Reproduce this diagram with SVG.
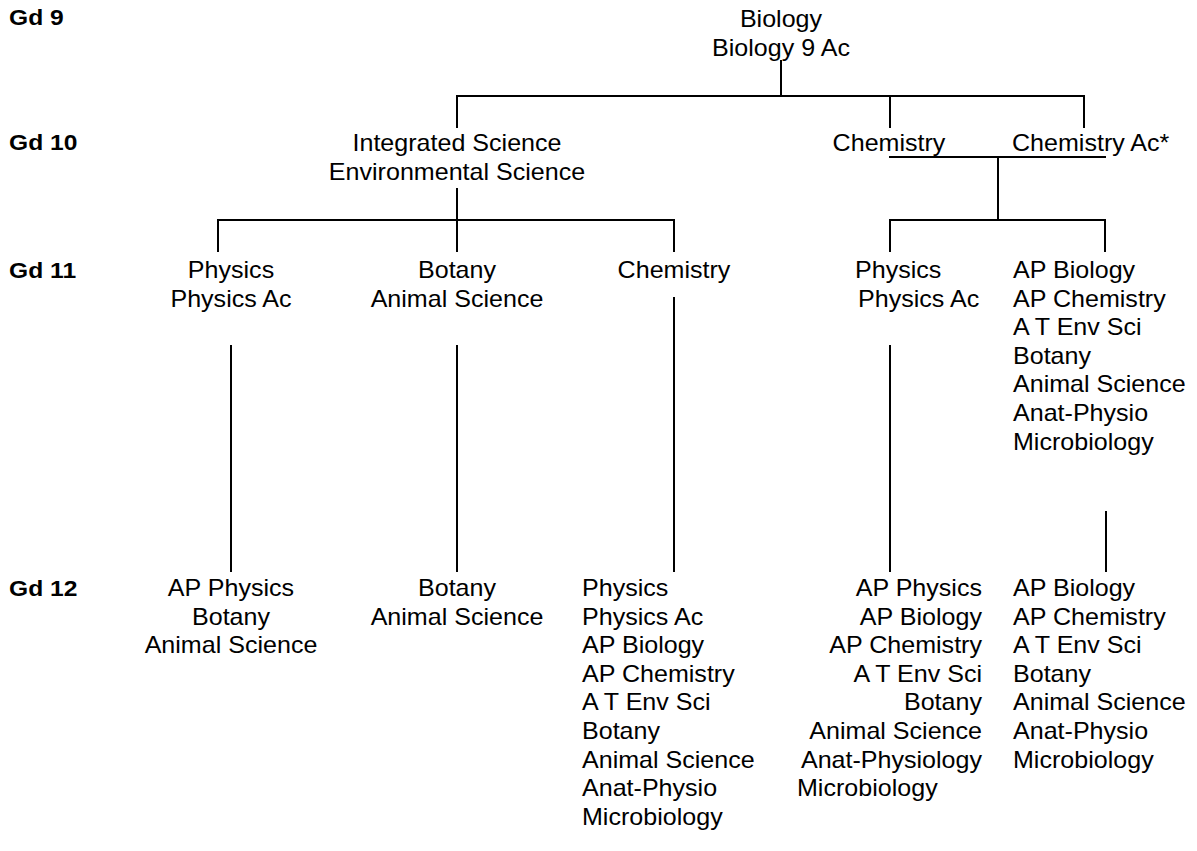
<svg xmlns="http://www.w3.org/2000/svg" width="1197" height="851" viewBox="0 0 1197 851">
<style>
text{font-family:"Liberation Sans",Arial,sans-serif;font-size:23px;fill:#000}
.m text{text-anchor:middle}
.s text{text-anchor:start}
.e text{text-anchor:end}
.b text{font-weight:bold;font-size:22px}
.ln line{stroke:#000;stroke-width:2}
</style>
<rect width="1197" height="851" fill="#fff"/>
<g id="grade-labels" class="b s">
<g transform="translate(9 0) scale(1.12 1)"><text x="0" y="25">Gd 9</text></g>
<g transform="translate(9 0) scale(1.12 1)"><text x="0" y="150">Gd 10</text></g>
<g transform="translate(9 0) scale(1.12 1)"><text x="0" y="278">Gd 11</text></g>
<g transform="translate(9 0) scale(1.12 1)"><text x="0" y="596">Gd 12</text></g>
</g>
<g id="connectors" class="ln">
<line x1="781" y1="60" x2="781" y2="96"/>
<line x1="456" y1="96" x2="1085" y2="96"/>
<line x1="457" y1="95" x2="457" y2="128"/>
<line x1="890" y1="95" x2="890" y2="128"/>
<line x1="1084" y1="95" x2="1084" y2="128"/>
<line x1="889" y1="157" x2="1106" y2="157"/>
<line x1="998" y1="157" x2="998" y2="220"/>
<line x1="889" y1="220" x2="1106" y2="220"/>
<line x1="890" y1="219" x2="890" y2="252"/>
<line x1="1105" y1="219" x2="1105" y2="252"/>
<line x1="457" y1="188" x2="457" y2="220"/>
<line x1="217" y1="220" x2="675" y2="220"/>
<line x1="218" y1="219" x2="218" y2="252"/>
<line x1="457" y1="219" x2="457" y2="252"/>
<line x1="674" y1="219" x2="674" y2="252"/>
<line x1="231" y1="345" x2="231" y2="572"/>
<line x1="457" y1="345" x2="457" y2="572"/>
<line x1="674" y1="297" x2="674" y2="572"/>
<line x1="890" y1="345" x2="890" y2="572"/>
<line x1="1106" y1="511" x2="1106" y2="572"/>
</g>
<g id="n-biology" class="m" transform="translate(781 0) scale(1.09 1)"><text x="0" y="27">Biology</text><text x="0" y="56">Biology 9 Ac</text></g>
<g id="n-integrated" class="m" transform="translate(457 0) scale(1.09 1)"><text x="0" y="151">Integrated Science</text><text x="0" y="180">Environmental Science</text></g>
<g id="n-chem10" class="m" transform="translate(889 0) scale(1.09 1)"><text x="0" y="151">Chemistry</text></g>
<g id="n-chemac10" class="s" transform="translate(1012 0) scale(1.09 1)"><text x="0" y="151">Chemistry Ac*</text></g>
<g id="n-physics11a" class="m" transform="translate(231 0) scale(1.09 1)"><text x="0" y="278">Physics</text><text x="0" y="306.6">Physics Ac</text></g>
<g id="n-botany11" class="m" transform="translate(457 0) scale(1.09 1)"><text x="0" y="278">Botany</text><text x="0" y="306.6">Animal Science</text></g>
<g id="n-chem11" class="m" transform="translate(674 0) scale(1.09 1)"><text x="0" y="278">Chemistry</text></g>
<g id="n-physics11b" class="s"><g transform="translate(855 0) scale(1.09 1)"><text x="0" y="278">Physics</text></g><g transform="translate(858 0) scale(1.09 1)"><text x="0" y="306.6">Physics Ac</text></g></g>
<g id="n-ap11" class="s" transform="translate(1013 0) scale(1.09 1)"><text x="0" y="278">AP Biology</text><text x="0" y="306.6">AP Chemistry</text><text x="0" y="335.2">A T Env Sci</text><text x="0" y="363.8">Botany</text><text x="0" y="392.4">Animal Science</text><text x="0" y="421">Anat-Physio</text><text x="0" y="449.6">Microbiology</text></g>
<g id="n-g12a" class="m" transform="translate(231 0) scale(1.09 1)"><text x="0" y="596">AP Physics</text><text x="0" y="624.6">Botany</text><text x="0" y="653.2">Animal Science</text></g>
<g id="n-g12b" class="m" transform="translate(457 0) scale(1.09 1)"><text x="0" y="596">Botany</text><text x="0" y="624.6">Animal Science</text></g>
<g id="n-g12c" class="s" transform="translate(582 0) scale(1.09 1)"><text x="0" y="596">Physics</text><text x="0" y="624.6">Physics Ac</text><text x="0" y="653.2">AP Biology</text><text x="0" y="681.8">AP Chemistry</text><text x="0" y="710.4">A T Env Sci</text><text x="0" y="739">Botany</text><text x="0" y="767.6">Animal Science</text><text x="0" y="796.2">Anat-Physio</text><text x="0" y="824.8">Microbiology</text></g>
<g id="n-g12d"><g class="e" transform="translate(982 0) scale(1.09 1)"><text x="0" y="596">AP Physics</text><text x="0" y="624.6">AP Biology</text><text x="0" y="653.2">AP Chemistry</text><text x="0" y="681.8">A T Env Sci</text><text x="0" y="710.4">Botany</text><text x="0" y="739">Animal Science</text><text x="0" y="767.6">Anat-Physiology</text></g><g class="s" transform="translate(797 0) scale(1.09 1)"><text x="0" y="796.2">Microbiology</text></g></g>
<g id="n-g12e" class="s" transform="translate(1013 0) scale(1.09 1)"><text x="0" y="596">AP Biology</text><text x="0" y="624.6">AP Chemistry</text><text x="0" y="653.2">A T Env Sci</text><text x="0" y="681.8">Botany</text><text x="0" y="710.4">Animal Science</text><text x="0" y="739">Anat-Physio</text><text x="0" y="767.6">Microbiology</text></g>
</svg>
